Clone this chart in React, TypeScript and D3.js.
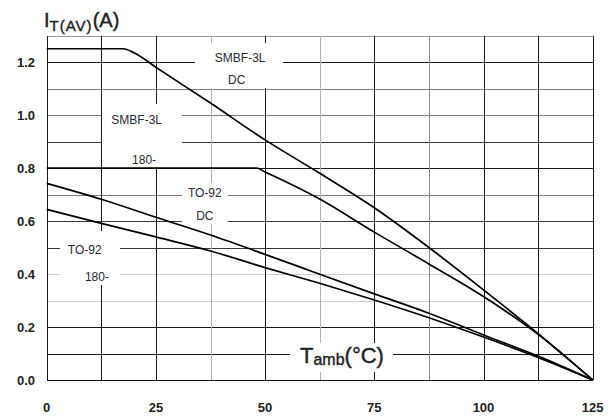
import React from 'react'
import * as d3 from 'd3'

// ambient temperature (°C) / average current (A)
const tempSmbfDc = [0, 17.5, 20, 25, 37.5, 50, 62.5, 75, 87.5, 100, 112.5, 125]
const curSmbfDc = [1.25, 1.25, 1.235, 1.18, 1.045, 0.906, 0.78, 0.65, 0.5, 0.34, 0.175, 0]

const tempSmbf180 = [0, 48, 50, 62.5, 75, 87.5, 100, 112.5, 125]
const curSmbf180 = [0.8, 0.8, 0.785, 0.683, 0.558, 0.438, 0.315, 0.172, 0]

const tempTo92Dc = [0, 12.5, 25, 37.5, 50, 62.5, 75, 87.5, 100, 112.5, 125]
const curTo92Dc = [0.742, 0.682, 0.614, 0.547, 0.474, 0.399, 0.325, 0.252, 0.17, 0.09, 0]

const tempTo92180 = [0, 12.5, 25, 37.5, 50, 62.5, 75, 87.5, 100, 112.5, 125]
const curTo92180 = [0.644, 0.591, 0.54, 0.487, 0.424, 0.365, 0.302, 0.235, 0.162, 0.085, 0]

const xTicks = [0, 25, 50, 75, 100, 125]
const yTicks = [0, 0.2, 0.4, 0.6, 0.8, 1.0, 1.2]

const series = [
  { t: tempSmbfDc, i: curSmbfDc },
  { t: tempSmbf180, i: curSmbf180 },
  { t: tempTo92Dc, i: curTo92Dc },
  { t: tempTo92180, i: curTo92180 },
]

// curve labels: [text, temp, current]
const labels: [string, number, number][] = [
  ['SMBF-3L', 44.3, 1.201],
  ['DC', 43.5, 1.116],
  ['SMBF-3L', 20.6, 0.966],
  ['180-', 22.3, 0.815],
  ['TO-92', 36.2, 0.691],
  ['DC', 36.2, 0.604],
  ['TO-92', 8.7, 0.474],
  ['180-', 11.5, 0.375],
]

// white areas behind labels that cut the grid: [t0, t1, i0, i1]
const gaps: [number, number, number, number][] = [
  [34.0, 54.1, 1.102, 1.272],
  [12.6, 30.9, 0.804, 1.042],
  [31.0, 41.5, 0.589, 0.743],
  [3.0, 16.8, 0.358, 0.562],
  [55.7, 79.3, 0.03, 0.14],
]

const W = 614
const H = 416

const x = d3.scaleLinear().domain([0, 125]).range([46.7, 592.7])
const y = d3.scaleLinear().domain([0, 1.3]).range([380, 35.5])

const vGridColor = (v: number) => {
  if (v === 37.5 || v === 62.5) return '#b4b4b4'
  if (v === 87.5) return '#8a8a8a'
  return '#1a1a1a'
}
const hGridColor = (k: number) => {
  if (k === 3 || k === 4) return '#cfcfcf'
  if (k === 7 || k === 10 || k === 11) return '#7a7a7a'
  if (k === 13) return '#9a9a9a'
  if (k === 9 || k === 5 || k === 6) return '#3a3a3a'
  return '#1a1a1a'
}

export default function App() {
  const xGrid = d3.range(0, 11).map((k) => k * 12.5)
  const hGrid = d3.range(0, 14)

  const curve = d3
    .line<[number, number]>()
    .x((d) => x(d[0]))
    .y((d) => y(d[1]))
    .curve(d3.curveMonotoneX)

  const paths = series.map((s) => curve(s.t.map((t, k) => [t, s.i[k]] as [number, number])))

  const font = 'Liberation Sans, Arial, sans-serif'

  return (
    <svg
      width={W}
      height={H}
      style={{ position: 'absolute', left: 0, top: 0, background: '#fff' }}
      fontFamily={font}
    >
      <rect width={W} height={H} fill="#fff" />
      <g shapeRendering="crispEdges">
        {hGrid.map((k) => (
          <line
            key={'h' + k}
            x1={x(0)}
            x2={x(125)}
            y1={Math.round(y(k / 10)) + 0.5}
            y2={Math.round(y(k / 10)) + 0.5}
            stroke={hGridColor(k)}
            strokeWidth={1.2}
          />
        ))}
        {xGrid.map((v) => (
          <line
            key={'v' + v}
            x1={Math.round(x(v)) + 0.5}
            x2={Math.round(x(v)) + 0.5}
            y1={y(1.3)}
            y2={y(0)}
            stroke={vGridColor(v)}
            strokeWidth={1.2}
          />
        ))}
        {gaps.map((g, k) => (
          <rect
            key={'g' + k}
            x={x(g[0])}
            y={y(g[3])}
            width={x(g[1]) - x(g[0])}
            height={y(g[2]) - y(g[3])}
            fill="#fff"
          />
        ))}
      </g>
      {paths.map((p, k) => (
        <path key={'p' + k} d={p || ''} fill="none" stroke="#000" strokeWidth={1.7} strokeLinejoin="round" />
      ))}
      {labels.map(([txt, t, i], k) => (
        <text key={'l' + k} x={x(t)} y={y(i)} textAnchor="middle" fontSize={12} fill="#2a2a33">
          {txt}
        </text>
      ))}
      {yTicks.map((v) => (
        <text
          key={'yt' + v}
          x={35}
          y={y(v)}
          dy="0.36em"
          textAnchor="end"
          fontSize={13}
          fontWeight="bold"
          fill="#222"
        >
          {d3.format('.1f')(v)}
        </text>
      ))}
      {xTicks.map((v) => (
        <text
          key={'xt' + v}
          x={x(v)}
          y={411.5}
          textAnchor="middle"
          fontSize={13}
          fontWeight="bold"
          fill="#222"
        >
          {v}
        </text>
      ))}
      <text x={44} y={27} fontSize={20} fill="#222" stroke="#222" strokeWidth={0.4}>
        <tspan>I</tspan>
        <tspan fontSize={15} dy={4} letterSpacing={1}>
          T(AV)
        </tspan>
        <tspan dy={-4}>(A)</tspan>
      </text>
      <text x={300} y={363} fontSize={22} fill="#222" stroke="#222" strokeWidth={0.4}>
        <tspan>T</tspan>
        <tspan fontSize={16} dy={2}>
          amb
        </tspan>
        <tspan dy={-2}>(°C)</tspan>
      </text>
    </svg>
  )
}
